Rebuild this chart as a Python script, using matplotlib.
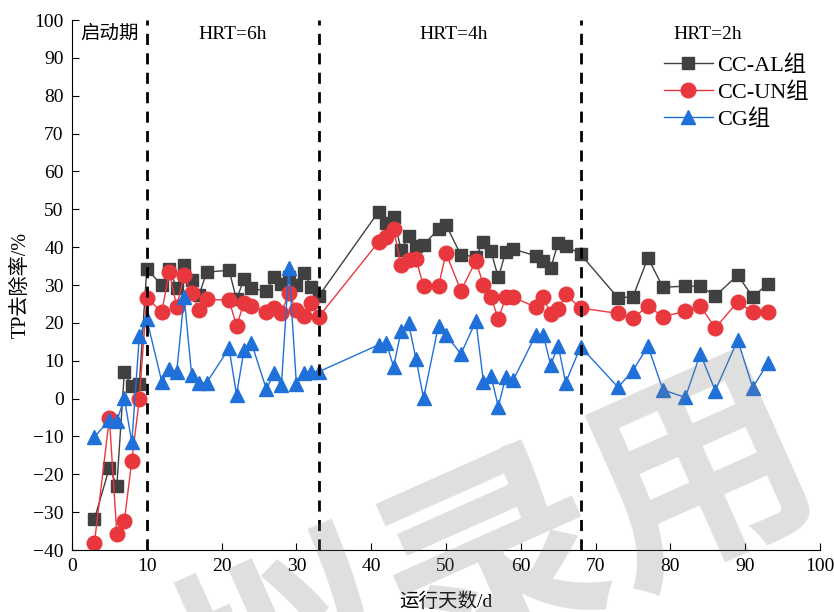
import matplotlib.pyplot as plt

plt.rcParams['font.family'] = ['Liberation Serif', 'Noto Sans CJK SC']
plt.rcParams['axes.unicode_minus'] = True

# days and TP removal (%) for each group
days = [3, 5, 6, 7, 8, 9, 10, 12, 13, 14, 15, 16, 17, 18, 21, 22, 23, 24, 26, 27,
        28, 29, 30, 31, 32, 33, 41, 42, 43, 44, 45, 46, 47, 49, 50, 52, 54, 55, 56, 57,
        58, 59, 62, 63, 64, 65, 66, 68, 73, 75, 77, 79, 82, 84, 86, 89, 91, 93]

cc_al = [-31.8, -18.3, -23.0, 7.0, 3.2, 3.8, 34.3, 29.9, 34.2, 29.2, 35.4, 31.3, 27.4, 33.4,
         33.9, 26.2, 31.6, 29.2, 28.3, 32.2, 30.2, 32.2, 30.0, 33.3, 29.6, 27.1, 49.4, 46.3,
         47.9, 39.2, 42.9, 40.4, 40.6, 44.8, 45.9, 37.9, 37.5, 41.4, 39.0, 32.0, 38.8, 39.5,
         37.7, 36.4, 34.4, 41.2, 40.4, 38.1, 26.6, 26.9, 37.2, 29.4, 29.7, 29.7, 27.1, 32.6,
         26.9, 30.2]

cc_un = [-38.1, -5.2, -35.8, -32.3, -16.4, -0.2, 26.7, 22.8, 33.5, 24.3, 32.6, 27.8, 23.4, 26.2,
         26.0, 19.2, 25.3, 24.5, 23.0, 23.8, 22.7, 27.8, 23.4, 21.8, 25.2, 21.6, 41.4, 42.8,
         44.7, 35.3, 36.6, 36.8, 29.7, 29.7, 38.4, 28.5, 36.4, 30.0, 26.9, 21.0, 26.8, 26.8,
         24.1, 26.9, 22.3, 23.6, 27.5, 23.9, 22.5, 21.2, 24.5, 21.6, 23.1, 24.5, 18.6, 25.6,
         22.8, 22.8]

cg = [-10.1, -5.7, -5.9, 0.1, -11.6, 16.4, 21.0, 4.5, 7.7, 7.1, 26.9, 6.2, 4.2, 4.2,
      13.3, 1.0, 12.8, 14.7, 2.4, 6.8, 3.6, 34.6, 3.9, 6.8, 7.1, 7.1, 14.2, 14.8,
      8.4, 17.9, 19.9, 10.4, 0.1, 19.3, 16.8, 11.8, 20.5, 4.5, 6.0, -2.1, 5.8, 4.9,
      16.8, 16.8, 8.9, 14.0, 4.2, 13.7, 3.0, 7.4, 13.9, 2.3, 0.3, 11.8, 2.1, 15.5,
      2.9, 9.3]

stage_bounds = [10, 33, 68]
stage_names = ['启动期', 'HRT=6h', 'HRT=4h', 'HRT=2h']
stage_x = [5, 21.5, 51, 85]

fig = plt.figure(figsize=(8.34, 6.12), dpi=100)
ax = fig.add_axes([0.0863, 0.1013, 0.8969, 0.8660])

ax.plot(days, cc_al, color='#404040', lw=1.0, marker='s', ms=9,
        mfc='#404040', mec='#404040', label='CC-AL组')
ax.plot(days, cc_un, color='#E8383D', lw=1.0, marker='o', ms=10.5,
        mfc='#E8383D', mec='#E8383D', label='CC-UN组')
ax.plot(days, cg, color='#1F70D8', lw=1.0, marker='^', ms=10.5,
        mfc='#1F70D8', mec='#1F70D8', label='CG组')

for b in stage_bounds:
    ax.axvline(b, color='black', lw=2, ls=(0, (4, 3)))

for x, name in zip(stage_x, stage_names):
    ax.text(x, 96.2, name, ha='center', va='center', fontsize=14)

ax.set_xlim(0, 100)
ax.set_ylim(-40, 100)
ax.set_xticks(range(0, 101, 10))
ax.set_yticks(range(-40, 101, 10))
ax.tick_params(direction='in', labelsize=14, length=5, pad=6)
ax.spines['top'].set_visible(False)
ax.spines['right'].set_visible(False)
ax.set_xlabel('运行天数/d', fontsize=14, labelpad=12)
ax.set_ylabel('TP去除率/%', fontsize=14.5, labelpad=2)

ax.legend(loc='upper right', bbox_to_anchor=(0.997, 0.95), frameon=False,
          borderaxespad=0, fontsize=16, handlelength=2.2, labelspacing=0.28,
          handletextpad=0.2)

# watermark stamp
fig.text(0.598, 0.068, '拟录用', fontsize=160, color='#808080', alpha=0.25,
         rotation=24, rotation_mode='anchor', ha='center', va='center',
         fontweight='bold', family='Noto Sans CJK SC', zorder=10)

plt.savefig('out.png', dpi=100)
